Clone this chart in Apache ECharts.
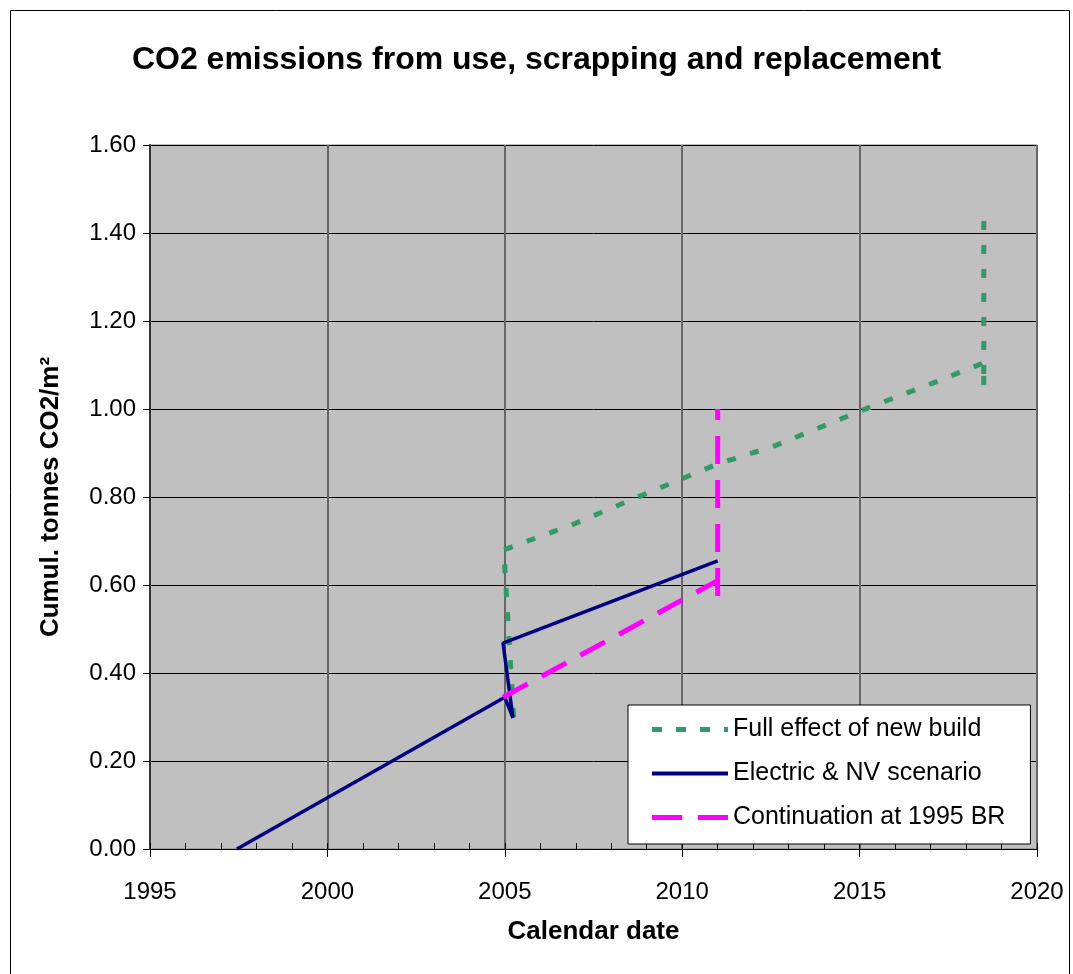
<!DOCTYPE html>
<html>
<head>
<meta charset="utf-8">
<script src="https://cdn.jsdelivr.net/npm/echarts@6/dist/echarts.min.js"></script>
<style>
html,body{margin:0;padding:0;background:#fff;}
#chart{width:1073px;height:974px;}
</style>
</head>
<body>
<div id="chart"></div>
<script>
// ---- data ----
var seriesNames = ['Full effect of new build', 'Electric & NV scenario', 'Continuation at 1995 BR'];
var fullEffectData = [[2005.25,0.30],[2004.97,0.68],[2006.9,0.737],[2008.75,0.80],[2011,0.875],[2012.6,0.916],[2015.1,0.998],[2017.1,1.06],[2018.5,1.105],[2018.5,1.05],[2018.5,1.45]];
var electricData = [[1997.45,0.0],[2005.0,0.345],[2005.23,0.298],[2004.95,0.468],[2011.0,0.655]];
var continuationData = [[2004.95,0.345],[2011.0,0.61],[2011.0,0.57],[2011.0,1.0]];
var xTicks = [1995, 2000, 2005, 2010, 2015, 2020];
var yTicks = [0, 0.2, 0.4, 0.6, 0.8, 1.0, 1.2, 1.4, 1.6];

var FONT = 'Arial, "Liberation Sans", sans-serif';
var styles = [
  {color: '#339966', width: 5, type: [9, 15]},
  {color: '#000080', width: 3.5, type: 'solid'},
  {color: '#ff00ff', width: 5, type: [28, 16]}
];
var legendIcons = [
  'path://M0,0h10v5h-10zM24,0h10v5h-10zM48,0h10v5h-10zM72,0h4v5h-4z',
  'path://M0,0.5h76v4h-76z M0,0h0.01v5h-0.01z',
  'path://M0,0h29v5h-29zM44,0h29v5h-29z'
];
var chart = echarts.init(document.getElementById('chart'));
chart.setOption({
  backgroundColor: '#ffffff',
  animation: false,
  title: {
    text: 'CO2 emissions from use, scrapping and replacement',
    left: 'center', top: 39,
    textStyle: {fontFamily: FONT, fontSize: 32, fontWeight: 'bold', color: '#000'}
  },
  graphic: [{
    type: 'rect', left: 8, top: 8, z: -10, silent: true,
    shape: {width: 1059, height: 990},
    style: {fill: 'none', stroke: '#000', lineWidth: 1}
  }],
  grid: {
    left: 150, right: 36, top: 145, bottom: 125,
    show: true, backgroundColor: '#c0c0c0', borderColor: '#808080', borderWidth: 1
  },
  legend: {
    orient: 'vertical',
    left: 628, top: 705,
    backgroundColor: '#fff', borderColor: '#000', borderWidth: 1,
    padding: [12, 25, 14, 24],
    itemGap: 19, itemWidth: 76, itemHeight: 5,
    symbolKeepAspect: false,
    textStyle: {fontFamily: FONT, fontSize: 25, color: '#000'},
    data: seriesNames.map(function (n, i) {
      return {name: n, icon: legendIcons[i], itemStyle: {color: styles[i].color, borderWidth: 0}};
    })
  },
  xAxis: [{
    type: 'value', min: xTicks[0], max: xTicks[xTicks.length-1], interval: 5,
    name: 'Calendar date', nameLocation: 'middle', nameGap: 70,
    nameTextStyle: {fontFamily: FONT, fontSize: 26, fontWeight: 'bold', color: '#000'},
    axisLine: {show: true, onZero: false, lineStyle: {color: '#000', width: 1}},
    axisTick: {show: true, inside: false, length: 8, lineStyle: {color: '#000'}},
    axisLabel: {fontFamily: FONT, fontSize: 24, color: '#000', margin: 31,
      formatter: function (v) { return String(v); }},
    splitLine: {show: true, lineStyle: {color: '#666', width: 2}}
  }, {
    type: 'value', min: xTicks[0], max: xTicks[xTicks.length-1], interval: 1,
    position: 'bottom',
    axisLine: {show: false},
    axisTick: {show: true, inside: true, length: 6, lineStyle: {color: '#000'}},
    axisLabel: {show: false},
    splitLine: {show: false}
  }],
  yAxis: {
    type: 'value', min: yTicks[0], max: yTicks[yTicks.length-1], interval: 0.2,
    name: 'Cumul. tonnes CO2/m²', nameLocation: 'middle', nameGap: 86,
    nameTextStyle: {fontFamily: FONT, fontSize: 26, fontWeight: 'bold', color: '#000'},
    axisLine: {show: true, lineStyle: {color: '#333', width: 2}},
    axisTick: {show: true, inside: false, length: 7, lineStyle: {color: '#000'}},
    axisLabel: {fontFamily: FONT, fontSize: 24, color: '#000', margin: 14,
      formatter: function (v) { return v.toFixed(2); }},
    splitLine: {show: true, lineStyle: {color: '#000', width: 1}}
  },
  series: [{
    name: seriesNames[0], type: 'line', data: fullEffectData, symbol: 'none',
    lineStyle: styles[0], itemStyle: {color: styles[0].color}
  }, {
    name: seriesNames[1], type: 'line', data: electricData, symbol: 'none',
    lineStyle: styles[1], itemStyle: {color: styles[1].color}
  }, {
    name: seriesNames[2], type: 'line', data: continuationData, symbol: 'none',
    lineStyle: styles[2], itemStyle: {color: styles[2].color}
  }]
});
</script>
</body>
</html>
